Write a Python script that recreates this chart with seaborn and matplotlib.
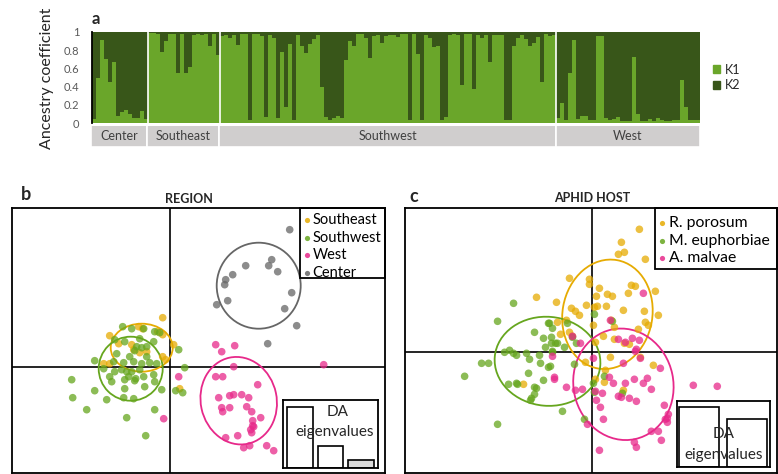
import numpy as np
import pandas as pd
import matplotlib
matplotlib.use("Agg")
import matplotlib.pyplot as plt
from matplotlib.patches import Ellipse, Rectangle, Patch
import seaborn as sns

# a: ancestry coefficient of cluster K1 for each individual, grouped by region
center_k1 = [0.04, 0.50, 0.91, 0.70, 0.45, 0.67, 0.08, 0.12, 0.14, 0.10, 0.05, 0.05, 0.13, 0.04]
southeast_k1 = [0.99, 0.99, 0.98, 0.78, 0.90, 0.98, 0.98, 0.55, 0.98, 0.55, 0.62, 0.97,
                0.98, 0.97, 0.98, 0.85, 0.98, 0.75]
southwest_k1 = [0.96, 0.97, 0.93, 0.97, 0.86, 0.98, 0.98, 0.03, 0.98, 0.98, 0.96, 0.07,
                0.97, 0.93, 0.05, 0.78, 0.18, 0.87, 0.03, 0.97, 0.85, 0.77, 0.87, 0.92,
                0.97, 0.40, 0.07, 0.03, 0.05, 0.08, 0.05, 0.69, 0.90, 0.85, 0.98, 0.98,
                0.93, 0.71, 0.96, 0.97, 0.88, 0.96, 0.97, 0.97, 0.95, 0.98, 0.98, 0.03,
                0.98, 0.76, 0.03, 0.97, 0.93, 0.83, 0.85, 0.03, 0.07, 0.97, 0.98, 0.97,
                0.42, 0.98, 0.98, 0.37, 0.97, 0.93, 0.97, 0.67, 0.97, 0.97, 0.97, 0.03,
                0.03, 0.85, 0.93, 0.97, 0.92, 0.85, 0.88, 0.95, 0.45, 0.98, 0.96, 0.97]
west_k1 = [0.06, 0.22, 0.03, 0.55, 0.91, 0.04, 0.08, 0.08, 0.03, 0.03, 0.96, 0.96,
           0.06, 0.03, 0.04, 0.07, 0.02, 0.02, 0.02, 0.73, 0.10, 0.02, 0.02, 0.04,
           0.02, 0.06, 0.03, 0.02, 0.02, 0.03, 0.03, 0.47, 0.18, 0.03, 0.03, 0.03]
structure_regions = ["Center", "Southeast", "Southwest", "West"]

# b: DAPC scores by region (LD1, LD2)
b_center_x = [12.0, 10.2, 9.9, 10.8, 7.6, 6.3, 5.6, 5.5, 12.2, 5.8, 4.7, 11.5, 12.7, 9.8]
b_center_y = [13.7, 10.7, 10.1, 9.5, 10.1, 9.2, 8.7, 8.2, 7.4, 6.6, 6.2, 5.8, 4.1, 2.3]
b_southeast_x = [-0.7, -6.0, -3.1, -2.7, -1.2, -0.7, 0.4, -3.8, -3.6, -3.0, -2.3, -0.7,
                 -0.4, -6.0, -6.6, 1.0, -5.1]
b_southeast_y = [4.9, 3.1, 4.0, 3.8, 3.5, 3.2, 2.2, 2.2, 1.7, 1.4, 1.5, 1.0, 0.7, 0.3,
                 0.3, -2.2, 2.3]
b_southwest_x = [-4.7, -3.8, -2.6, -1.5, -1.0, -5.5, -4.5, -3.0, -1.6, -3.3, -2.8, -2.3,
                 -3.5, 0.9, -7.5, -5.6, -4.6, -3.6, -2.8, -2.0, -1.3, -4.8, -4.3, -3.8,
                 1.5, -6.0, -4.1, -3.4, -2.6, -1.6, -5.8, -4.5, -3.5, -1.5, -9.8, -4.5,
                 -2.5, -0.8, 0.6, 1.3, -7.5, -9.7, -6.3, -4.6, -3.6, -8.3, -1.5, -4.3,
                 -2.4, -5.3, -4.0, -2.3, -6.6, -5.5, -3.0]
b_southwest_y = [4.0, 3.8, 3.8, 3.5, 3.4, 2.7, 2.5, 2.8, 2.5, 2.0, 1.9, 2.0, 1.6, 1.7,
                 0.6, 0.5, 0.4, 0.5, 0.3, 0.4, 0.3, -0.3, -0.5, -0.5, -0.1, -1.0, -1.0,
                 -1.2, -1.0, -0.8, -1.5, -1.3, -1.4, -1.5, -1.3, -2.2, -2.0, -2.3, -2.4,
                 -2.6, -2.4, -3.1, -3.3, -3.1, -3.2, -4.3, -4.3, -5.1, -6.9, 1.3, 1.0,
                 1.0, -0.2, -0.5, -0.3]
b_west_x = [4.6, 5.2, 6.5, 15.4, 6.4, 4.6, 5.3, 0.9, 8.8, 4.9, 6.0, 6.4, 7.2, 7.9, 7.7,
            5.2, 6.0, 5.3, 8.2, 9.1, 8.3, 8.3, 8.4, 8.1, 6.8, 5.6, 8.2, -0.6, 7.4, 8.0,
            9.7, 10.4]
b_west_y = [2.2, 1.5, 2.1, 0.2, 0.0, -1.0, -1.0, -1.0, -1.8, -3.1, -2.9, -2.8, -2.8,
            -3.1, -4.0, -4.1, -4.1, -4.5, -4.5, -5.1, -5.4, -5.9, -6.0, -6.3, -6.9,
            -7.1, -6.6, -5.2, -8.1, -7.9, -7.9, -8.4]
b_groups = ["Southeast", "Southwest", "West", "Center"]
# inertia ellipses: centre x, centre y, half axes, rotation (deg)
b_ell_x = [-2.8, -3.9, 6.9, 8.9]
b_ell_y = [1.9, -0.2, -3.4, 8.1]
b_ell_rx = [3.1, 3.2, 3.8, 4.2]
b_ell_ry = [2.4, 3.2, 4.4, 4.3]
b_ell_angle = [0, 0, 12, 0]
b_eigenvalues = [100, 36, 13]

# c: DAPC scores by aphid host
c_rporosum_x = [4.7, 2.9, 2.6, 3.2, 5.3, -2.3, -0.3, -0.3, 0.7, 3.9, 4.3, 6.3, -5.6, 0.4,
                1.5, 2.0, 3.6, -3.6, -2.1, -1.7, -1.3, -0.6, 0.5, 1.4, 3.1, 5.2, 6.6, 0.2,
                0.1, 1.1, 2.2, 5.3, 5.6, 4.6, 1.9, 2.2, -2.3, -3.2, -3.5, -2.6, 1.8, -0.7,
                1.3, 6.1, 1.2, 0.3, -6.9, 3.1, 3.2, 3.7, 4.8, 0.3, -2.0]
c_rporosum_y = [12.3, 11.0, 9.8, 10.0, 9.3, 7.4, 7.3, 6.8, 6.4, 6.7, 6.6, 6.1, 5.5, 5.6,
                5.8, 5.6, 5.9, 5.0, 4.4, 4.1, 3.7, 4.7, 4.6, 4.6, 4.2, 4.1, 3.7, 4.5,
                2.7, 1.6, 1.3, 3.0, 2.7, 2.3, 3.2, 2.5, 2.0, 1.8, 3.0, 3.2, -0.5, -1.0,
                -1.8, -1.3, -3.0, -2.7, -3.2, -3.8, 0.9, 0.8, -0.5, 1.0, 1.6]
c_meuph_x = [-7.9, 0.2, 2.0, -9.5, -4.4, -2.5, -5.8, -4.0, -4.9, -4.1, -3.7, -4.1, -3.5,
             -4.7, -4.0, -2.8, -1.6, -8.8, -8.3, -7.9, -7.6, -11.1, -10.4, -6.3, -5.3,
             -5.2, -4.4, -4.2, -6.4, -1.8, -4.9, -7.6, -7.5, -8.4, -5.6, -5.8, -6.2,
             -6.1, -3.0, -9.5, -0.8, 0.1, 0.2, 1.2, 3.0, -12.8, -4.3, -2.0, -4.0, -5.8,
             -6.6]
c_meuph_y = [4.9, 3.8, 3.1, 3.1, 2.9, 2.9, 2.0, 2.4, 1.4, 1.5, 0.9, 0.9, 0.9, 0.5, 0.0,
             0.5, 0.9, 0.0, 0.2, -0.1, -0.3, -1.1, -1.1, -0.7, -0.3, -1.1, -1.5, -1.4,
             -2.1, -1.2, -2.8, -3.1, -3.2, -3.2, -3.6, -4.2, -4.8, -4.6, -5.9, -7.2,
             -6.7, -3.1, -4.0, -2.4, -4.1, -2.4, 2.9, 1.5, 0.1, -3.5, -0.1]
c_amalvae_x = [5.1, 1.8, -2.0, -1.2, 3.3, 4.0, 4.7, 4.3, 4.4, 4.8, -4.0, 0.1, 3.1, 6.8,
               1.7, 2.1, 3.3, 4.2, 5.1, 5.5, 5.9, -3.8, -3.8, -2.6, -1.7, -1.0, 0.3, 0.4,
               1.0, 2.6, 2.9, 3.7, 4.4, 0.8, 1.1, 7.2, 7.6, 7.5, 7.3, 7.5, 10.1, 12.5,
               -0.5, 0.7, 4.2, 4.4, 5.9, 6.6, 6.9, 2.6]
c_amalvae_y = [5.9, 3.2, 1.6, 0.9, 1.0, 1.4, 1.2, 0.1, 0.3, -0.6, -0.4, -0.6, -1.1, -1.6,
               -2.5, -3.1, -3.1, -2.7, -3.1, -2.6, -3.7, -2.5, -2.7, -3.5, -3.8, -3.7,
               -3.9, -4.8, -4.1, -4.4, -4.5, -4.6, -4.9, -5.5, -6.7, -5.3, -6.2, -6.6,
               -6.7, -7.0, -3.3, -3.4, -7.2, -9.8, -9.0, -9.5, -7.9, -7.9, -8.8, 1.3]
c_groups = ["R. porosum", "M. euphorbiae", "A. malvae"]
c_ell_x = [1.5, -4.5, 3.1]
c_ell_y = [3.8, -0.9, -3.2]
c_ell_rx = [4.5, 5.3, 5.0]
c_ell_ry = [5.5, 4.45, 5.6]
c_ell_angle = [-10, -5, 12]
c_eigenvalues = [100, 80]

LIGHT_GREEN = "#6aa62a"
DARK_GREEN = "#385619"
STRIP_GRAY = "#d0cece"
DAPC_COLORS = ["#E6AB02", "#66A61E", "#E7298A", "#666666"]

W, H = 778, 474


def fx(px):
    return px / W


def fy(py):
    return 1 - py / H


def fig_rect(x0, y0, x1, y1):
    # pixel box (top-left, bottom-right) to figure fraction rect
    return [fx(x0), fy(y1), fx(x1) - fx(x0), fy(y0) - fy(y1)]


# Structure barplot
def draw_structure(fig):
    groups = [center_k1, southeast_k1, southwest_k1, west_k1]
    k1 = np.concatenate(groups)
    df = pd.DataFrame({"ind": np.arange(len(k1)), "K1": k1})
    df["total"] = 1.0
    n = len(k1)

    ax = fig.add_axes(fig_rect(92, 32, 700, 123))
    sns.barplot(data=df, x="ind", y="total", color=DARK_GREEN, width=1, linewidth=0,
                saturation=1, errorbar=None, ax=ax)
    sns.barplot(data=df, x="ind", y="K1", color=LIGHT_GREEN, width=1, linewidth=0,
                saturation=1, errorbar=None, ax=ax)
    ax.set_xlim(-0.5, n - 0.5)
    ax.set_ylim(0, 1)
    ax.set_xticks([])
    ax.set_xlabel("")
    ax.set_ylabel("")
    for s in ["top", "right", "bottom"]:
        ax.spines[s].set_visible(False)
    ax.spines["left"].set_color("black")
    ax.spines["left"].set_linewidth(1.3)
    ax.set_yticks([0, 0.2, 0.4, 0.6, 0.8, 1.0])
    ax.set_yticklabels(["0", "0.2", "0.4", "0.6", "0.8", "1"])
    ax.tick_params(axis="y", length=0, pad=9, labelsize=8, labelcolor="#595959")
    ax.set_yticks([0, 0.5, 1.0], minor=True)
    ax.tick_params(axis="y", which="minor", length=4, width=1.3, color="black")

    counts = [len(g) for g in groups]
    starts = np.cumsum([0] + counts[:-1])
    for b in starts[1:]:
        ax.axvline(b - 0.5, color="white", lw=1.2)

    ax.legend(handles=[Patch(color=LIGHT_GREEN, label="K1"), Patch(color=DARK_GREEN, label="K2")],
              loc="center left", bbox_to_anchor=(1.0, 0.5), frameon=False, fontsize=9,
              handlelength=0.6, handleheight=0.6, handletextpad=0.4, labelspacing=0.3,
              borderaxespad=0.6)

    # region strip under the bars
    sax = fig.add_axes(fig_rect(91, 126, 700, 147))
    sax.bar(starts - 0.5, counts, width=counts, align="edge", color=STRIP_GRAY,
            edgecolor="white", linewidth=1.2)
    for st, c, name in zip(starts, counts, structure_regions):
        sax.text(st - 0.5 + c / 2, 0.5, name, ha="center", va="center", fontsize=9,
                 color="#404040")
    sax.set_xlim(-0.5, n - 0.5)
    sax.set_ylim(0, 1)
    sax.axis("off")

    fig.text(fx(47), fy(78), "Ancestry coefficient", rotation=90, ha="center", va="center",
             fontsize=11.5, color="#262626")
    fig.text(fx(96), fy(19), "a", ha="center", va="center", fontsize=12, fontweight="bold")


def draw_dapc(fig, box, xs, ys, names, ell, xlim, ylim, font_leg, leg_box, leg_rows):
    frames = []
    for x, y, name in zip(xs, ys, names):
        frames.append(pd.DataFrame({"LD1": x, "LD2": y, "group": name}))
    df = pd.concat(frames, ignore_index=True)

    ax = fig.add_axes(fig_rect(*box))
    ax.axhline(0, color="black", lw=1.2, zorder=1)
    ax.axvline(0, color="black", lw=1.2, zorder=1)
    sns.scatterplot(data=df, x="LD1", y="LD2", hue="group", hue_order=names,
                    palette=DAPC_COLORS[:len(names)], s=30, alpha=0.75, linewidth=0,
                    legend=False, ax=ax, zorder=3)
    for i, (ex, ey, rx, ry, ang) in enumerate(zip(*ell)):
        ax.add_patch(Ellipse((ex, ey), 2 * rx, 2 * ry, angle=ang, fill=False,
                             edgecolor=DAPC_COLORS[i], lw=1.3, zorder=2))
    ax.set_xlim(*xlim)
    ax.set_ylim(*ylim)
    ax.set_xticks([])
    ax.set_yticks([])
    ax.set_xlabel("")
    ax.set_ylabel("")
    for s in ax.spines.values():
        s.set_visible(True)
        s.set_color("black")
        s.set_linewidth(1.3)

    # legend box in the upper right corner
    lx0, ly0 = leg_box
    ax.add_patch(Rectangle((lx0, ly0), 1 - lx0, 1 - ly0, transform=ax.transAxes,
                           fill=False, edgecolor="black", lw=1.3, zorder=5, clip_on=False))
    mx, tx, y_top, step = leg_rows
    for i, name in enumerate(names):
        yy = y_top - i * step
        ax.scatter([mx], [yy], transform=ax.transAxes, s=14, color=DAPC_COLORS[i],
                   alpha=0.85, linewidth=0, zorder=6, clip_on=False)
        ax.text(tx, yy, name, transform=ax.transAxes, ha="left", va="center",
                fontsize=font_leg, color="black", zorder=6)
    return ax


def draw_eigen(fig, box, eig, width, xlim, ylim, fills, text_pos):
    ax = fig.add_axes(fig_rect(*box))
    ax.set_facecolor("white")
    sns.barplot(x=np.arange(len(eig)), y=eig, color="white", width=width, saturation=1,
                edgecolor="black", linewidth=1.2, errorbar=None, ax=ax)
    for p, f in zip(ax.patches, fills):
        p.set_facecolor(f)
    ax.set_xlim(*xlim)
    ax.set_ylim(*ylim)
    ax.set_xticks([])
    ax.set_yticks([])
    ax.set_xlabel("")
    ax.set_ylabel("")
    for s in ax.spines.values():
        s.set_color("black")
        s.set_linewidth(1.3)
    (dx, dy), (ex, ey) = text_pos
    ax.text(dx, dy, "DA", transform=ax.transAxes, ha="center", va="center", fontsize=11)
    ax.text(ex, ey, "eigenvalues", transform=ax.transAxes, ha="center", va="center",
            fontsize=11)


def main():
    sns.set_style("white")
    plt.rcParams["font.family"] = ["Lato", "DejaVu Sans"]
    fig = plt.figure(figsize=(W / 100, H / 100), dpi=100)

    draw_structure(fig)

    # b: region
    draw_dapc(fig, (12, 207.7, 385, 472.7),
              [b_southeast_x, b_southwest_x, b_west_x, b_center_x],
              [b_southeast_y, b_southwest_y, b_west_y, b_center_y],
              b_groups, (b_ell_x, b_ell_y, b_ell_rx, b_ell_ry, b_ell_angle),
              (-15.77, 21.53), (-10.6, 15.9), 10.5,
              (0.772, 0.735), (0.791, 0.806, 0.953, 0.066))
    draw_eigen(fig, (283, 400, 378, 467.7), b_eigenvalues, 0.85, (-0.56, 2.56),
               (0, 111.5), ["white", "white", "#d9d9d9"],
               ((0.57, 0.82), (0.54, 0.52)))
    fig.text(fx(189), fy(199), "REGION", ha="center", va="center", fontsize=9,
             fontweight="bold")
    fig.text(fx(26), fy(195), "b", ha="center", va="center", fontsize=13, fontweight="bold")

    # c: aphid host
    draw_dapc(fig, (405, 207.7, 776.5, 472.7),
              [c_rporosum_x, c_meuph_x, c_amalvae_x],
              [c_rporosum_y, c_meuph_y, c_amalvae_y],
              c_groups, (c_ell_x, c_ell_y, c_ell_rx, c_ell_ry, c_ell_angle),
              (-18.77, 18.43), (-12.04, 14.46), 11.3,
              (0.674, 0.769), (0.693, 0.710, 0.943, 0.067))
    draw_eigen(fig, (676.7, 400.7, 770, 467), c_eigenvalues, 0.83, (-0.465, 1.48),
               (0, 110.5), ["none", "none"],
               ((0.50, 0.50), (0.50, 0.18)))
    fig.text(fx(591.7), fy(198), "APHID HOST", ha="center", va="center", fontsize=9,
             fontweight="bold")
    fig.text(fx(413.7), fy(196), "c", ha="center", va="center", fontsize=13,
             fontweight="bold")

    fig.savefig("out.png", dpi=100)


if __name__ == "__main__":
    main()
